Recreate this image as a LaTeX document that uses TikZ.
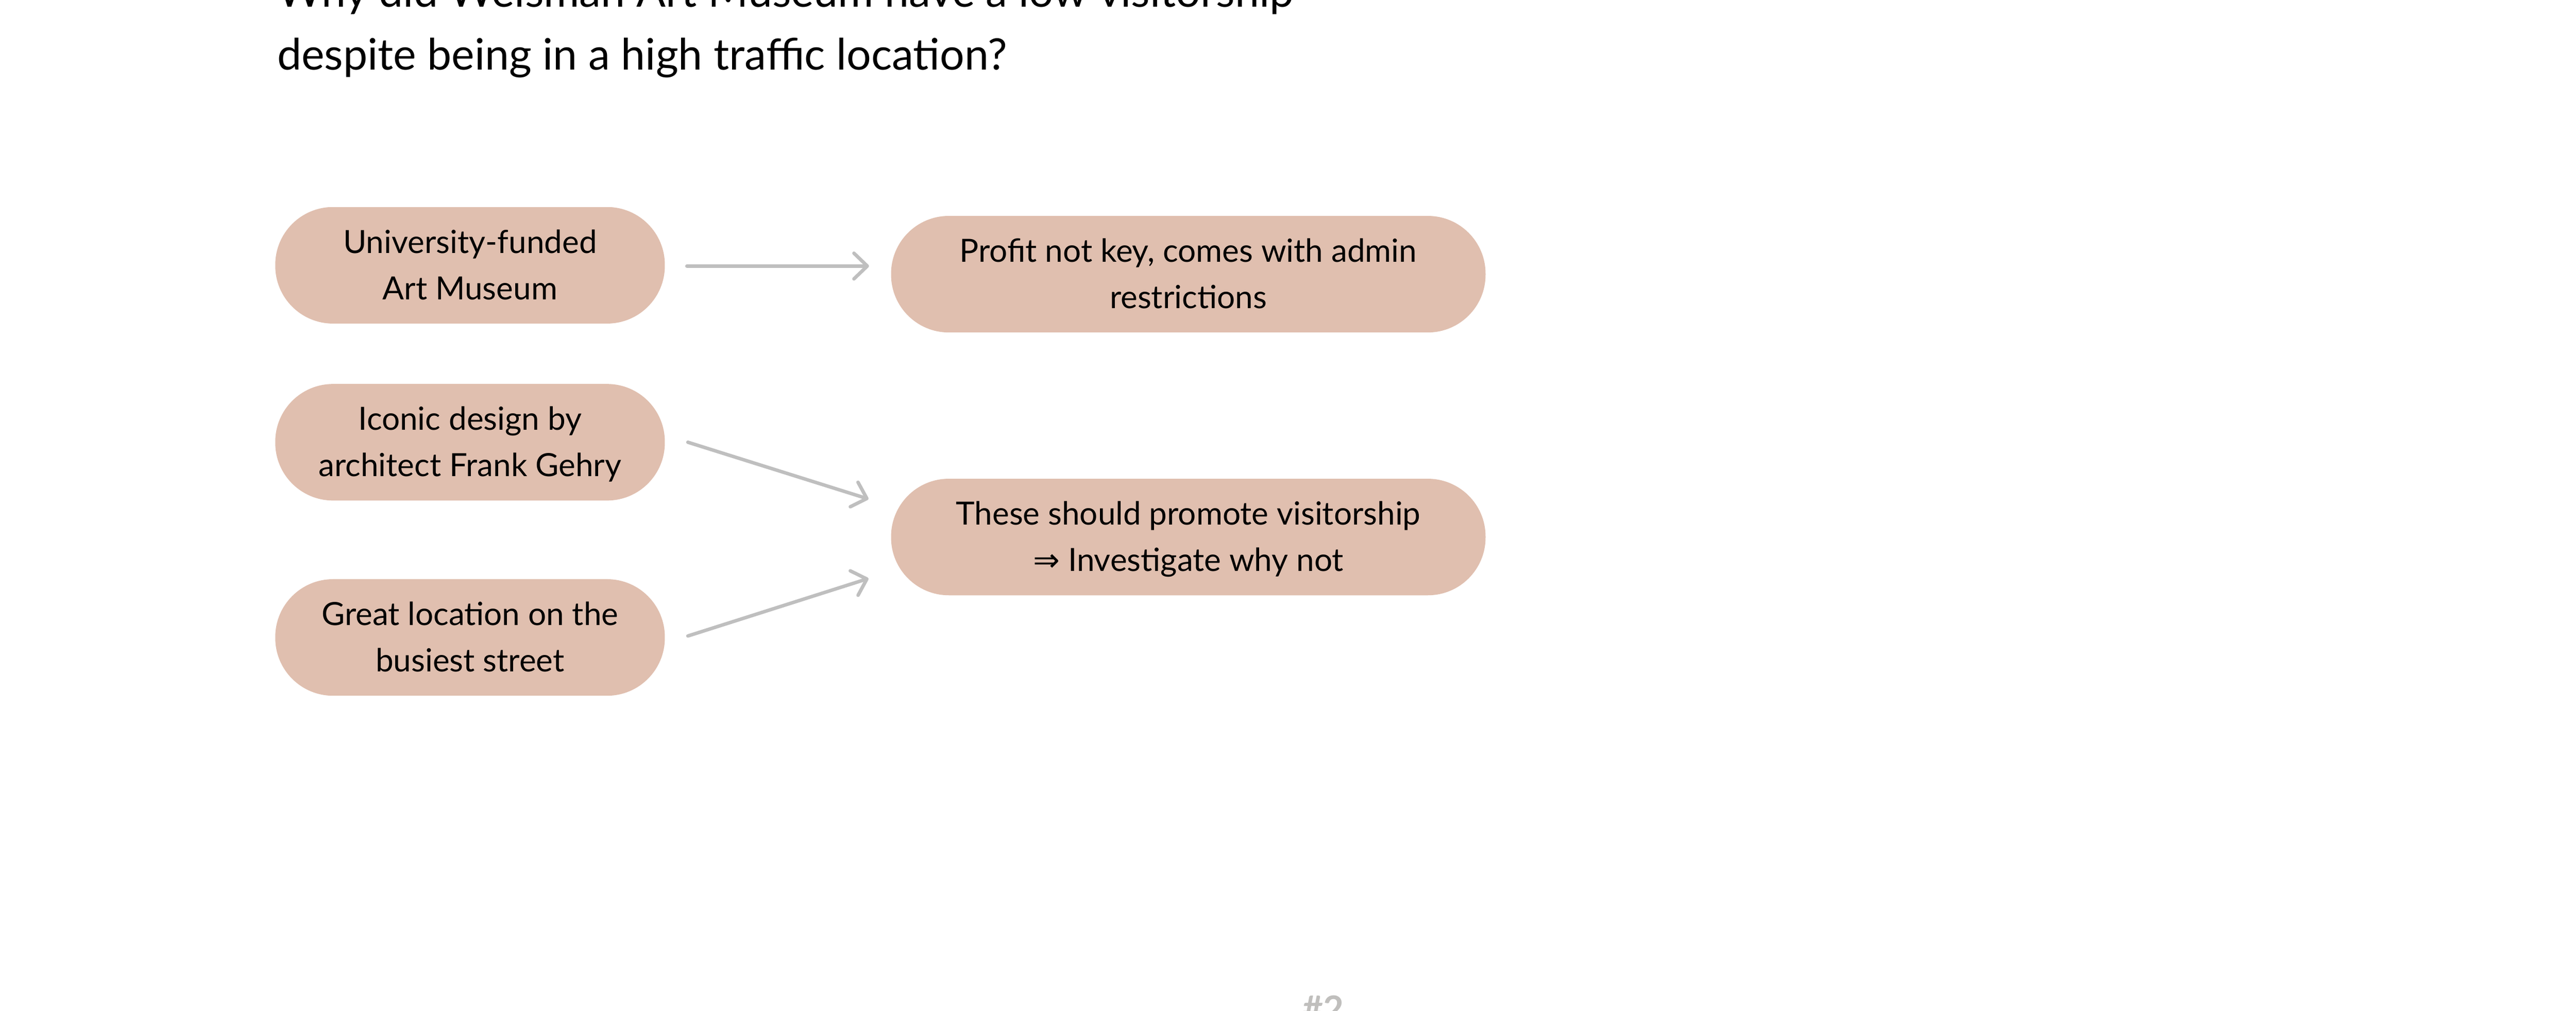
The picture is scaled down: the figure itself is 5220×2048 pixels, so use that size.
\documentclass[tikz,border=0pt]{standalone}
\usepackage{fontspec}
\setmainfont{Lato}
\newfontfamily\arrowfont{DejaVu Sans}
\usetikzlibrary{arrows.meta,calc}
\definecolor{pillfill}{HTML}{E0BFAF}
\definecolor{arrowgray}{HTML}{BFBFBF}
\definecolor{numgray}{HTML}{C0BFBD}
\newcommand{\pstrut}{\rule[-0.2em]{0pt}{1.1em}}
\tikzset{
  pill/.style={fill=pillfill, draw=none, rounded corners=1.17cm, inner sep=0pt,
    minimum height=2.36cm, align=center, text=black,
    font=\fontsize{18.4pt}{26.7pt}\selectfont},
  smallpill/.style={pill, minimum width=7.89cm},
  widepill/.style={pill, minimum width=12.04cm},
  arr/.style={draw=arrowgray, line width=0.07cm, line cap=round,
    -{Straight Barb[length=0.27cm, width=0.52cm, round]}},
  titletext/.style={anchor=base west, inner sep=0pt, text=black,
    font=\fontsize{25pt}{36pt}\selectfont}
}
\begin{document}
\begin{tikzpicture}[x=0.01cm, y=-0.01cm]
\useasboundingbox (0,0) rectangle (5220,2048);
\fill[white] (0,0) rectangle (5220,2048);
% title
\node[titletext] (t1) at (561,14) {Why did Weisman Art Museum have a low visitorship};
\node[titletext] (t2) at (561,141) {despite being in a high traffic location?};
% pills
\node[smallpill] (n1) at (952.5,537.5) {\pstrut University-funded\\\pstrut Art Museum};
\node[widepill]  (n2) at (2408,555.5) {\pstrut Profit not key, comes with admin\\\pstrut restrictions};
\node[smallpill] (n3) at (952.5,896) {\pstrut Iconic design by\\\pstrut architect Frank Gehry};
\node[widepill]  (n4) at (2408,1088) {\pstrut These should promote visitorship\\\pstrut {\arrowfont ⇒} Investigate why not};
\node[smallpill] (n5) at (952.5,1291.5) {\pstrut Great location on the\\\pstrut busiest street};
% connector end points
\coordinate (a1s) at ($(n1.east)+(44,1.5)$);
\coordinate (a1e) at ($(n1.east -| n2.west)+(-44,1.5)$);
\coordinate (a2s) at ($(n3.east)+(46,0)$);
\coordinate (a2e) at ($(n4.west)+(-45,-77)$);
\coordinate (a3s) at ($(n5.east)+(46,-3)$);
\coordinate (a3e) at ($(n4.west)+(-45,84)$);
\draw[arr] (a1s) -- (a1e);
\draw[arr] (a2s) -- (a2e);
\draw[arr] (a3s) -- (a3e);
% page number
\node[anchor=base, inner sep=0pt, text=numgray, font=\fontsize{20.5pt}{24pt}\selectfont\bfseries] (pg) at (2682,2070) {\#2};
\end{tikzpicture}
\end{document}
